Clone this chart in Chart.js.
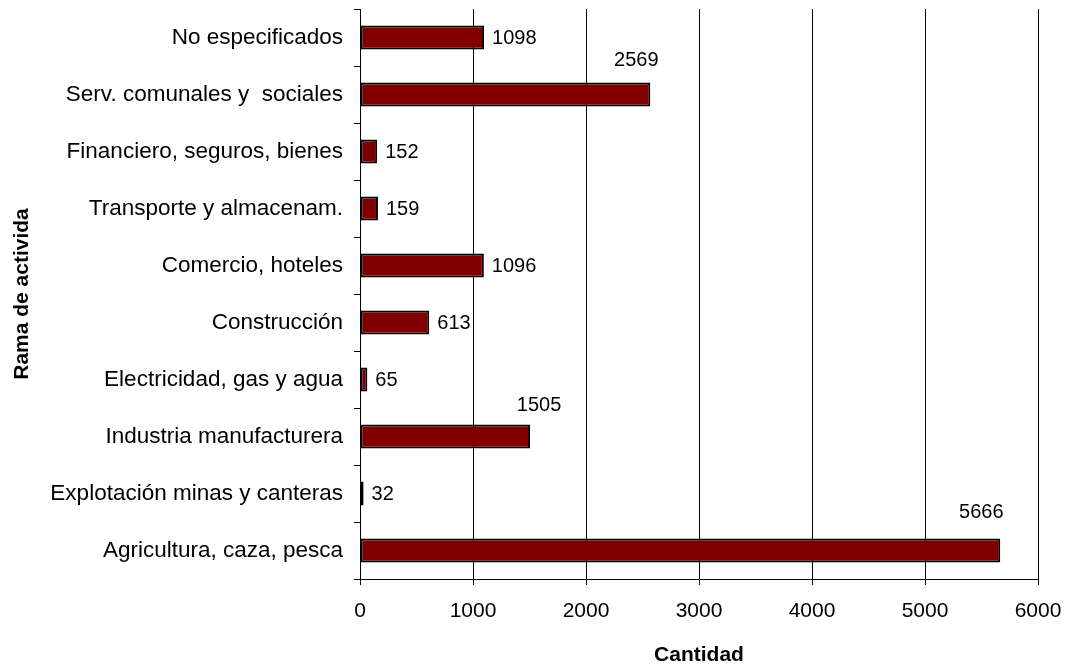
<!DOCTYPE html>
<html>
<head>
<meta charset="utf-8">
<script src="https://cdn.jsdelivr.net/npm/chart.js@4"></script>
<style>
  html, body { margin: 0; padding: 0; background: #fff; }
  #wrap { width: 1067px; height: 666px; }
</style>
</head>
<body>
<div id="wrap"><canvas id="myChart" width="1067" height="666"></canvas></div>
<script>
const ramas = [
  'No especificados',
  'Serv. comunales y  sociales',
  'Financiero, seguros, bienes',
  'Transporte y almacenam.',
  'Comercio, hoteles',
  'Construcción',
  'Electricidad, gas y agua',
  'Industria manufacturera',
  'Explotación minas y canteras',
  'Agricultura, caza, pesca'
];
const cantidad = [1098, 2569, 152, 159, 1096, 613, 65, 1505, 32, 5666];
const xTicks = [0, 1000, 2000, 3000, 4000, 5000, 6000];

const FONT = '"Liberation Sans", Arial, sans-serif';

// labels Excel moved above the bar end: [dx from bar end, dy from bar centre]
const aboveLabels = { 1: [-14, -34], 7: [9, -31], 9: [-19, -38] };

const valueLabels = {
  id: 'valueLabels',
  afterDatasetsDraw(chart) {
    const ctx = chart.ctx;
    const meta = chart.getDatasetMeta(0);
    ctx.save();
    ctx.font = '20px ' + FONT;
    ctx.fillStyle = '#000';
    ctx.textBaseline = 'middle';
    meta.data.forEach((bar, i) => {
      const txt = String(cantidad[i]);
      if (aboveLabels[i]) {
        ctx.textAlign = 'center';
        ctx.fillText(txt, bar.x + aboveLabels[i][0], bar.y + aboveLabels[i][1]);
      } else {
        ctx.textAlign = 'left';
        ctx.fillText(txt, bar.x + 8, bar.y + 1);
      }
    });
    ctx.restore();
  }
};

new Chart(document.getElementById('myChart'), {
  type: 'bar',
  data: {
    labels: ramas,
    datasets: [{
      data: cantidad,
      backgroundColor: '#800000',
      borderColor: '#000',
      borderWidth: 2,
      borderSkipped: false,
      categoryPercentage: 1,
      barPercentage: 0.42
    }]
  },
  options: {
    indexAxis: 'y',
    responsive: false,
    animation: false,
    layout: { padding: { top: 9, right: 29, left: 0, bottom: 0 } },
    plugins: {
      legend: { display: false },
      tooltip: { enabled: false }
    },
    scales: {
      x: {
        min: 0,
        max: 6000,
        afterBuildTicks: (axis) => { axis.ticks = xTicks.map(v => ({ value: v })); },
        afterFit: (axis) => { axis.height = 87; axis.paddingLeft = 0; axis.paddingRight = 0; },
        grid: { color: '#000', lineWidth: 1, tickLength: 6 },
        border: { color: '#000', width: 1 },
        ticks: {
          color: '#000', font: { family: FONT, size: 21 }, padding: 14, maxRotation: 0,
          callback: (v) => String(v)
        },
        title: { display: true, text: 'Cantidad', color: '#000', font: { family: FONT, size: 21, weight: 'bold', lineHeight: 1 }, padding: { top: 0, bottom: 0 } }
      },
      y: {
        afterFit: (axis) => { axis.width = 360; axis.paddingTop = 0; axis.paddingBottom = 0; },
        grid: { offset: true, drawOnChartArea: false, color: '#000', tickLength: 6 },
        border: { color: '#000', width: 1 },
        ticks: { color: '#000', font: { family: FONT, size: 22.5 }, padding: 11, autoSkip: false },
        title: { display: true, text: 'Rama de activida', color: '#000', font: { family: FONT, size: 21, weight: 'bold', lineHeight: 1 }, padding: { top: 12, bottom: 0 } }
      }
    }
  },
  plugins: [valueLabels]
});
</script>
</body>
</html>
